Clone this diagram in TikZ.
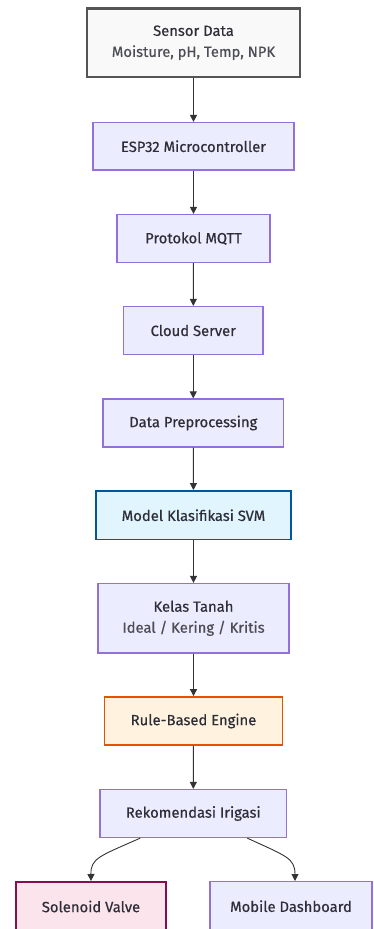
\documentclass[tikz,border=0pt]{standalone}
\usepackage{fontspec}
\setmainfont{Fira Sans}[FakeBold=0.5,AutoFakeBold=0.5]
\usetikzlibrary{arrows.meta}
\definecolor{txt}{HTML}{2E2E38}
\definecolor{defFill}{HTML}{ECECFF}
\definecolor{defDraw}{HTML}{9370DB}
\definecolor{senFill}{HTML}{F9F9F9}
\definecolor{senDraw}{HTML}{555555}
\definecolor{svmFill}{HTML}{E1F5FE}
\definecolor{svmDraw}{HTML}{01579B}
\definecolor{ruleFill}{HTML}{FFF3E0}
\definecolor{ruleDraw}{HTML}{E65100}
\definecolor{solFill}{HTML}{FCE4EC}
\definecolor{solDraw}{HTML}{880E4F}
\definecolor{lineCol}{HTML}{333333}
\tikzset{
  box/.style={draw=defDraw, fill=defFill, line width=1.2pt, inner sep=0pt,
    text=txt, font=\fontsize{14.8}{21}\selectfont\bfseries, align=center},
  sensorbox/.style={box, draw=senDraw, fill=senFill, line width=2.4pt},
  svmbox/.style={box, draw=svmDraw, fill=svmFill, line width=1.8pt},
  rulebox/.style={box, draw=ruleDraw, fill=ruleFill, line width=1.8pt},
  solbox/.style={box, draw=solDraw, fill=solFill, line width=1.8pt},
  conn/.style={draw=lineCol, line width=0.9pt, -{Triangle[length=7pt,width=7pt]}},
}
\begin{document}
\begin{tikzpicture}[x=1pt,y=-1pt]
\useasboundingbox (0,0) rectangle (373,929);
\node[sensorbox, minimum width=213, minimum height=68.5] (sen) at (193.5,42.75)
  {Sensor Data\\{\color{txt!85}Moisture, pH, Temp, NPK}};
\node[box, minimum width=201, minimum height=47.5] (esp) at (193.5,146.25) {ESP32 Microcontroller};
\node[box, minimum width=153, minimum height=48] (mqtt) at (193.5,238.5) {Protokol MQTT};
\node[box, minimum width=139.5, minimum height=48] (cloud) at (193.25,330.5) {Cloud Server};
\node[box, minimum width=180.5, minimum height=48] (prep) at (193.25,423) {Data Preprocessing};
\node[svmbox, minimum width=195, minimum height=48.5] (svm) at (193.5,515.25) {Model Klasifikasi SVM};
\node[box, minimum width=191, minimum height=69.5] (kelas) at (193.5,618.25)
  {Kelas Tanah\\{\color{txt!85}Ideal / Kering / Kritis}};
\node[rulebox, minimum width=178, minimum height=48] (rule) at (193.5,721) {Rule-Based Engine};
\node[box, minimum width=186.5, minimum height=48] (rek) at (193.25,813.5) {Rekomendasi Irigasi};
\node[solbox, minimum width=150, minimum height=50, anchor=north] (sol) at (91,881) {\raisebox{1pt}{Solenoid Valve}};
\node[box, minimum width=162, minimum height=50, anchor=north] (mob) at (291,881) {\raisebox{1pt}{Mobile Dashboard}};
\draw[conn] (sen) -- (esp);
\draw[conn] (esp) -- (mqtt);
\draw[conn] (mqtt) -- (cloud);
\draw[conn] (cloud) -- (prep);
\draw[conn] (prep) -- (svm);
\draw[conn] (svm) -- (kelas);
\draw[conn] (kelas) -- (rule);
\draw[conn] (rule) -- (rek);
\coordinate (rekL) at ([xshift=-53pt]rek.south);
\coordinate (rekR) at ([xshift=54pt]rek.south);
\coordinate (mobT) at (295,881);
\draw[conn] (rekL) .. controls (100,856) and (90.7,858) .. (sol.north);
\draw[conn] (rekR) .. controls (286,856) and (295,858) .. (mobT);
\end{tikzpicture}
\end{document}
